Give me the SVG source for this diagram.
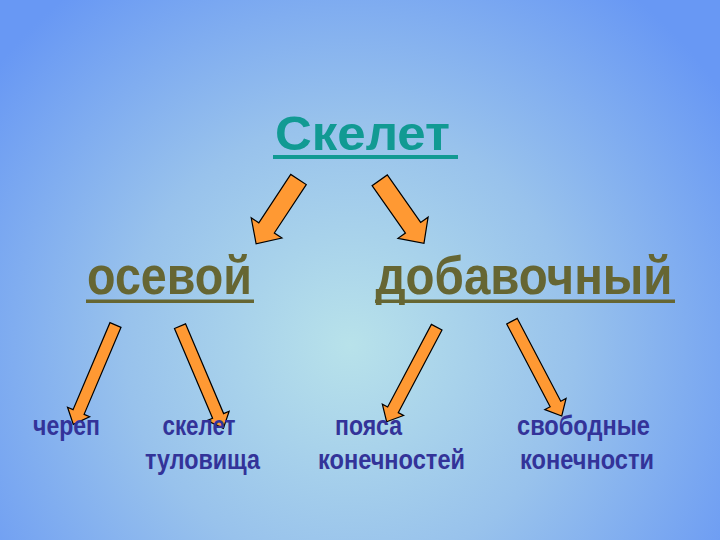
<svg xmlns="http://www.w3.org/2000/svg" width="720" height="540" viewBox="0 0 720 540">
  <defs>
    <radialGradient id="bg" gradientUnits="userSpaceOnUse" cx="350" cy="345" r="450">
      <stop offset="0" stop-color="#b8e2ea"/>
      <stop offset="0.5" stop-color="#98c2ec"/>
      <stop offset="1" stop-color="#6898f4"/>
    </radialGradient>
  </defs>
  <style>
    .arrow { fill: #ff9933; stroke: #000; stroke-width: 1.2; stroke-linejoin: miter; }
    .t { font-family: "Liberation Sans", Arial, sans-serif; font-weight: bold; }
    .top { fill: #119a93; font-size: 49px; }
    .mid { fill: #666633; font-size: 53px; }
    .leaf { fill: #333399; font-size: 28px; }
  </style>
  <rect width="720" height="540" fill="url(#bg)"/>

  <g id="connectors">
    <path class="arrow" transform="translate(298.5,179.5) rotate(123.4)" d="M0,-9.3 L58,-9.3 L58,-18.4 L77,0 L58,18.4 L58,9.3 L0,9.3 Z"/>
    <path class="arrow" transform="translate(379.7,180.3) rotate(54.9)" d="M0,-9.3 L58,-9.3 L58,-18.4 L77,0 L58,18.4 L58,9.3 L0,9.3 Z"/>
    <path class="arrow" transform="translate(115.5,325) rotate(113)" d="M0,-6 L94.5,-6 L94.5,-12 L108,0 L94.5,12 L94.5,6 L0,6 Z"/>
    <path class="arrow" transform="translate(180,326.2) rotate(67)" d="M0,-6 L97.5,-6 L97.5,-12 L111,0 L97.5,12 L97.5,6 L0,6 Z"/>
    <path class="arrow" transform="translate(436.7,327.2) rotate(117.9)" d="M0,-6 L93.5,-6 L93.5,-12 L107,0 L93.5,12 L93.5,6 L0,6 Z"/>
    <path class="arrow" transform="translate(512,321.2) rotate(62.3)" d="M0,-6 L93.5,-6 L93.5,-12 L107,0 L93.5,12 L93.5,6 L0,6 Z"/>
  </g>

  <g id="skelet">
    <text class="t top" x="275" y="150" textLength="175" lengthAdjust="spacingAndGlyphs">Скелет</text>
    <rect x="273" y="155" width="185" height="4" fill="#119a93"/>
  </g>
  <g id="osevoy">
    <text class="t mid" x="87" y="294" textLength="165" lengthAdjust="spacingAndGlyphs">осевой</text>
    <rect x="86" y="299.5" width="168" height="3.5" fill="#666633"/>
  </g>
  <g id="dobavochny">
    <text class="t mid" x="375.5" y="294" textLength="297" lengthAdjust="spacingAndGlyphs">добавочный</text>
    <rect x="375" y="299.5" width="300" height="3.5" fill="#666633"/>
  </g>
  <g id="cherep">
    <text class="t leaf" x="33" y="435" textLength="67" lengthAdjust="spacingAndGlyphs">череп</text>
  </g>
  <g id="skelet-tulovishcha">
    <text class="t leaf" x="162.5" y="435" textLength="73" lengthAdjust="spacingAndGlyphs">скелет</text>
    <text class="t leaf" x="145" y="469" textLength="115" lengthAdjust="spacingAndGlyphs">туловища</text>
  </g>
  <g id="poyasa">
    <text class="t leaf" x="335" y="435" textLength="67" lengthAdjust="spacingAndGlyphs">пояса</text>
    <text class="t leaf" x="318" y="469" textLength="147" lengthAdjust="spacingAndGlyphs">конечностей</text>
  </g>
  <g id="svobodnye">
    <text class="t leaf" x="517" y="435" textLength="133" lengthAdjust="spacingAndGlyphs">свободные</text>
    <text class="t leaf" x="520" y="469" textLength="134" lengthAdjust="spacingAndGlyphs">конечности</text>
  </g>
</svg>
